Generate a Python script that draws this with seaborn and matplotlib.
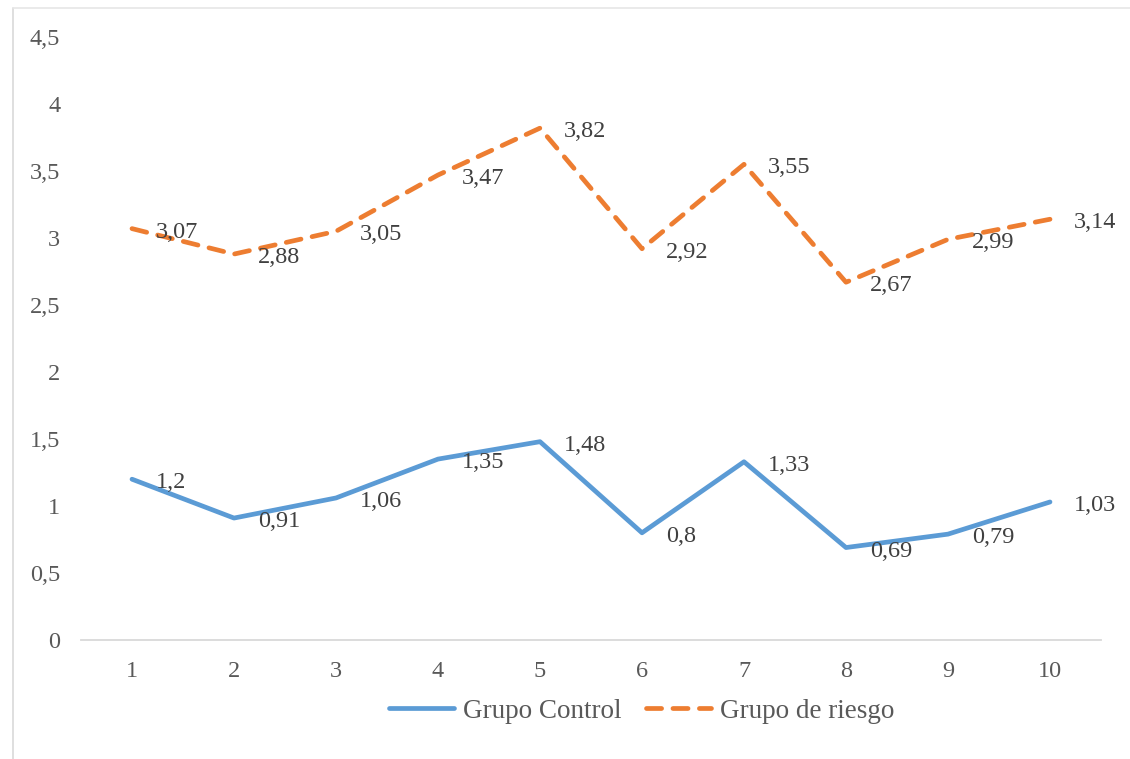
import matplotlib
matplotlib.use("Agg")
import matplotlib.pyplot as plt
from matplotlib.lines import Line2D
import numpy as np
import pandas as pd
import seaborn as sns

# Data
sessions = [1, 2, 3, 4, 5, 6, 7, 8, 9, 10]
grupo_control = [1.2, 0.91, 1.06, 1.35, 1.48, 0.8, 1.33, 0.69, 0.79, 1.03]
grupo_riesgo = [3.07, 2.88, 3.05, 3.47, 3.82, 2.92, 3.55, 2.67, 2.99, 3.14]
series_names = ["Grupo Control", "Grupo de riesgo"]
y_ticks = [0, 0.5, 1, 1.5, 2, 2.5, 3, 3.5, 4, 4.5]

df = pd.DataFrame({
    "x": sessions * 2,
    "valor": grupo_control + grupo_riesgo,
    "grupo": [series_names[0]] * len(sessions) + [series_names[1]] * len(sessions),
})

sns.set_theme(style="white")
plt.rcParams["font.family"] = ["Liberation Serif", "DejaVu Serif"]

def fmt(v):
    return f"{v:g}".replace(".", ",")

W, H = 1130, 759
fig = plt.figure(figsize=(W / 100, H / 100), dpi=100)
ax = fig.add_axes([81 / W, 1 - 640 / H, (1101 - 81) / W, (640 - 37) / H])

blue = "#5B9BD5"
orange = "#ED7D31"
lw = 3.4
fs = 17.5
palette = {series_names[0]: blue, series_names[1]: orange}
dashes = {series_names[0]: "", series_names[1]: (3.2, 2.4)}

sns.lineplot(data=df, x="x", y="valor", hue="grupo", style="grupo",
             palette=palette, dashes=dashes, linewidth=lw, ax=ax, legend=False)
for line in ax.get_lines():
    line.set_dash_capstyle("round")
    line.set_solid_capstyle("round")

# Data labels to the right of each point
label_color = "#404040"
for vals in (grupo_control, grupo_riesgo):
    for xv, yv in zip(sessions, vals):
        ax.annotate(fmt(yv), (xv, yv), xytext=(17.5, -2.5), textcoords="offset points",
                    ha="left", va="center", fontsize=fs, color=label_color)

ax.set_xlim(0.5, 10.5)
ax.set_ylim(0, 4.5)
ax.set_xticks(sessions)
ax.set_xticklabels([str(s) for s in sessions])
ax.set_yticks(y_ticks)
ax.set_yticklabels([fmt(t) for t in y_ticks])
ax.set_xlabel("")
ax.set_ylabel("")
ax.tick_params(axis="both", length=0, labelsize=fs, labelcolor="#595959")
ax.tick_params(axis="y", pad=15)
ax.tick_params(axis="x", pad=15)
for side in ("left", "right", "top"):
    ax.spines[side].set_visible(False)
ax.spines["bottom"].set_color("#D9D9D9")
ax.spines["bottom"].set_linewidth(1.3)
ax.grid(False)

handles = [
    Line2D([0], [0], color=blue, lw=lw, solid_capstyle="round"),
    Line2D([0], [0], color=orange, lw=lw, linestyle=(0, (3.2, 2.4)), dash_capstyle="round"),
]
fig.legend(handles, series_names, loc="center", bbox_to_anchor=(641.5 / W, 1 - 711 / H),
           ncol=2, frameon=False, fontsize=19.5, handlelength=2.4, handletextpad=0.33,
           columnspacing=0.92, labelcolor="#595959")

# Chart area border (left and top edges)
fig.add_artist(Line2D([13 / W, 13 / W], [0, 1 - 8 / H], transform=fig.transFigure,
                      color="#D9D9D9", lw=1.2))
fig.add_artist(Line2D([13 / W, 1], [1 - 8 / H, 1 - 8 / H], transform=fig.transFigure,
                      color="#E6E6E6", lw=1.2))

fig.savefig("out.png", dpi=100, facecolor="white")
